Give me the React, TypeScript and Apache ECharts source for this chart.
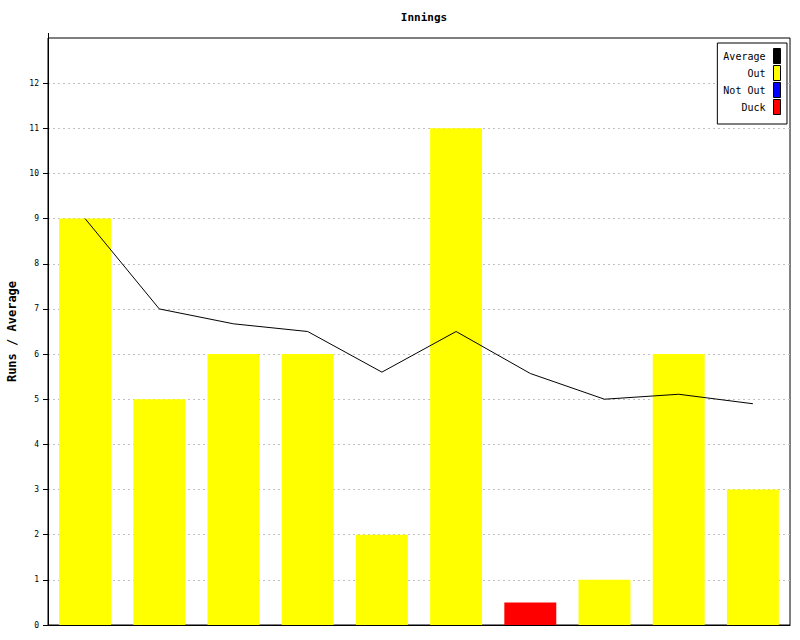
import React, { useEffect, useRef } from "react";
import * as echarts from "echarts";

const innings = ["1", "2", "3", "4", "5", "6", "7", "8", "9", "10"];
const outRuns = [9, 5, 6, 6, 2, 11, "-", 1, 6, 3];
const notOutRuns = ["-", "-", "-", "-", "-", "-", "-", "-", "-", "-"];
const duckRuns = ["-", "-", "-", "-", "-", "-", 0.5, "-", "-", "-"];
const average = [9, 7, 6.67, 6.5, 5.6, 6.5, 5.57, 5, 5.11, 4.9];
const yTicks = [0, 1, 2, 3, 4, 5, 6, 7, 8, 9, 10, 11, 12];

const MONO = "'DejaVu Sans Mono', 'Liberation Mono', monospace";

export default function App() {
  const ref = useRef<HTMLDivElement>(null);
  useEffect(() => {
    document.body.style.margin = "0";
    const chart = echarts.init(ref.current!, null, { renderer: "svg" });
    chart.setOption({
      animation: false,
      backgroundColor: "#ffffff",
      title: {
        text: "Innings",
        left: 419,
        textAlign: "center",
        top: 7,
        textStyle: { fontFamily: MONO, fontSize: 11, fontWeight: "bold", color: "#000" },
      },
      legend: {
        orient: "vertical",
        right: 13,
        top: 43,
        align: "right",
        padding: [5, 6, 9, 6],
        itemGap: 1,
        itemWidth: 7,
        itemHeight: 15,
        borderColor: "#000",
        borderWidth: 1,
        backgroundColor: "#fff",
        borderRadius: 0,
        selectedMode: false,
        textStyle: { fontFamily: MONO, fontSize: 10, color: "#000", padding: [0, 3, 0, 0] },
        data: [
          { name: "Average", icon: "rect", itemStyle: { color: "#000000", borderColor: "#000", borderWidth: 1 } },
          { name: "Out", icon: "rect", itemStyle: { color: "#ffff00", borderColor: "#000", borderWidth: 1 } },
          { name: "Not Out", icon: "rect", itemStyle: { color: "#0000ff", borderColor: "#000", borderWidth: 1 } },
          { name: "Duck", icon: "rect", itemStyle: { color: "#ff0000", borderColor: "#000", borderWidth: 1 } },
        ],
      },
      grid: {
        left: 48,
        right: 10,
        top: 38,
        bottom: 15,
        show: true,
        borderColor: "#000",
        borderWidth: 1,
        containLabel: false,
        outerBoundsMode: "none",
      },
      xAxis: {
        type: "category",
        data: innings,
        axisLine: { lineStyle: { color: "#000", width: 1 } },
        axisTick: { show: false },
        axisLabel: { show: false },
        splitLine: { show: false },
      },
      yAxis: {
        type: "value",
        min: 0,
        max: 13,
        interval: 1,
        name: "Runs / Average",
        nameLocation: "middle",
        nameGap: 29,
        nameTextStyle: { fontFamily: MONO, fontSize: 12, fontWeight: "bold", color: "#000" },
        axisLine: { show: true, lineStyle: { color: "#000", width: 1 } },
        axisTick: { show: true, length: 5, lineStyle: { color: "#000" }, customValues: yTicks },
        axisLabel: {
          fontFamily: MONO,
          fontSize: 8,
          color: "#000",
          margin: 9,
          customValues: yTicks,
        },
        splitLine: { show: true, lineStyle: { color: "#c0c0c0", type: [2, 3], width: 1 } },
      },
      series: [
        {
          name: "Out",
          type: "bar",
          stack: "runs",
          barWidth: "70%",
          data: outRuns,
          itemStyle: { color: "#ffff00" },
        },
        {
          name: "Not Out",
          type: "bar",
          stack: "runs",
          barWidth: "70%",
          data: notOutRuns,
          itemStyle: { color: "#0000ff" },
        },
        {
          name: "Duck",
          type: "bar",
          stack: "runs",
          barWidth: "70%",
          data: duckRuns,
          itemStyle: { color: "#ff0000" },
        },
        {
          name: "Average",
          type: "line",
          data: average,
          symbol: "none",
          z: 5,
          itemStyle: { color: "#000" },
          lineStyle: { color: "#000", width: 1 },
        },
      ],
      graphic: [
        {
          type: "line",
          shape: { x1: 48.5, y1: 33, x2: 48.5, y2: 38 },
          style: { stroke: "#000", lineWidth: 1 },
        },
      ],
    });
    return () => chart.dispose();
  }, []);
  return <div ref={ref} style={{ width: 800, height: 640 }} />;
}
